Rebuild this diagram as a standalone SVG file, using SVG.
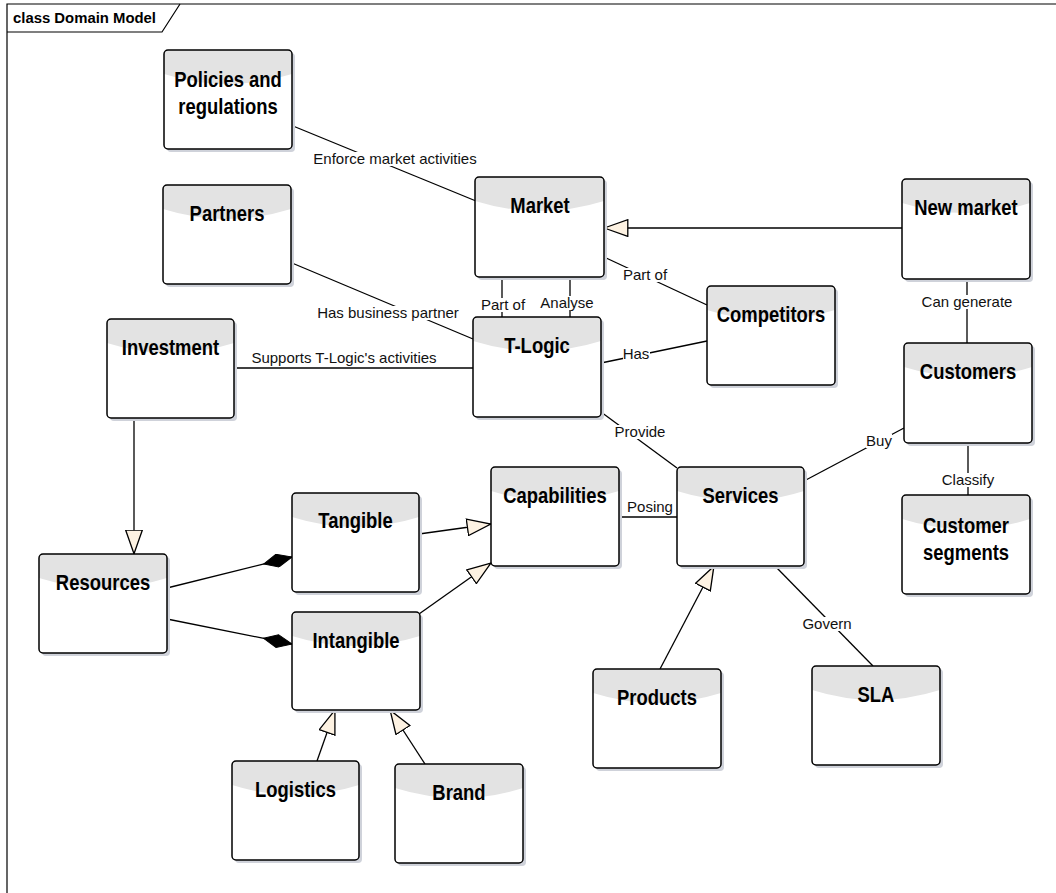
<svg xmlns="http://www.w3.org/2000/svg" width="1056" height="893" viewBox="0 0 1056 893">
<style>
.bg{fill:#ffffff}
.frame{fill:none;stroke:#000;stroke-width:1.2}
.ftitle{font-family:"Liberation Sans",Arial,sans-serif;font-weight:bold;font-size:14px;fill:#000}
.shadow{fill:#cfd2da}
.box{fill:#ffffff}
.hdr{fill:#e3e3e3}
.border{fill:none;stroke:#000;stroke-width:1.5}
.t{font-family:"Liberation Sans",Arial,sans-serif;font-weight:bold;font-size:22.5px;fill:#000;text-anchor:middle}
.ln{fill:none;stroke:#000;stroke-width:1.3}
.gen{marker-end:url(#tri)}
.comp{marker-end:url(#dia)}
.lb{font-family:"Liberation Sans",Arial,sans-serif;font-size:15px;fill:#111;text-anchor:middle}
.lbg{fill:#ffffff}
</style>
<defs>
<marker id="tri" viewBox="0 0 25 18" refX="24.5" refY="9" markerWidth="25" markerHeight="18" markerUnits="userSpaceOnUse" orient="auto">
<path d="M0.7,0.7 L24.3,9 L0.7,17.3 Z" fill="#fdf2e2" stroke="#000" stroke-width="1.3"/>
</marker>
<marker id="dia" viewBox="0 0 30 14" refX="29.5" refY="7" markerWidth="30" markerHeight="14" markerUnits="userSpaceOnUse" orient="auto">
<path d="M0.5,7 L14.5,0.5 L29.5,7 L14.5,13.5 Z" fill="#000" stroke="#000" stroke-width="1"/>
</marker>
</defs>
<rect class="bg" x="0" y="0" width="1056" height="893"/>
<g id="frame">
<path class="frame" d="M7,893 V4 H1056"/>
<path class="frame" d="M7,32 H162 L180,4"/>
<text class="ftitle" x="13" y="23" textLength="143" lengthAdjust="spacingAndGlyphs">class Domain Model</text>
</g>

<g id="connectors">
<line class="ln" x1="293" y1="126" x2="476" y2="201"/>
<line class="ln" x1="292" y1="263" x2="473" y2="339"/>
<line class="ln" x1="234" y1="368" x2="473" y2="368"/>
<line class="ln" x1="502" y1="277" x2="502" y2="317"/>
<line class="ln" x1="570" y1="277" x2="570" y2="317"/>
<line class="ln" x1="604" y1="257" x2="707" y2="305"/>
<line class="ln" x1="601" y1="363" x2="707" y2="341"/>
<line class="ln" x1="601" y1="412" x2="677" y2="468"/>
<line class="ln" x1="967" y1="279" x2="967" y2="343"/>
<line class="ln" x1="968" y1="443" x2="968" y2="495"/>
<line class="ln" x1="804" y1="481" x2="904" y2="428"/>
<line class="ln" x1="619" y1="517" x2="677" y2="517"/>
<line class="ln" x1="775" y1="566" x2="873" y2="666"/>
<line class="ln gen" x1="134" y1="418" x2="134" y2="554"/>
<line class="ln gen" x1="902" y1="228" x2="604" y2="228"/>
<line class="ln gen" x1="660" y1="669" x2="714" y2="566"/>
<line class="ln gen" x1="419" y1="534" x2="491" y2="524"/>
<line class="ln gen" x1="419" y1="614" x2="491" y2="563"/>
<line class="ln gen" x1="317" y1="761" x2="335" y2="710"/>
<line class="ln gen" x1="425" y1="764" x2="390" y2="710"/>
<line class="ln comp" x1="167" y1="588" x2="292" y2="557"/>
<line class="ln comp" x1="167" y1="619" x2="292" y2="644"/>

<rect class="lbg" x="313" y="152" width="164" height="14"/>
<text class="lb" x="395" y="164">Enforce market activities</text>
<rect class="lbg" x="318" y="306" width="140" height="14"/>
<text class="lb" x="388" y="318">Has business partner</text>
<text class="lb" x="344" y="363">Supports T-Logic's activities</text>
<rect class="lbg" x="481" y="298" width="44" height="14"/>
<text class="lb" x="503" y="310">Part of</text>
<rect class="lbg" x="541" y="296" width="52" height="14"/>
<text class="lb" x="567" y="308">Analyse</text>
<rect class="lbg" x="623" y="268" width="44" height="14"/>
<text class="lb" x="645" y="280">Part of</text>
<rect class="lbg" x="623" y="347" width="27" height="14"/>
<text class="lb" x="636" y="359">Has</text>
<rect class="lbg" x="615" y="425" width="51" height="14"/>
<text class="lb" x="640" y="437">Provide</text>
<rect class="lbg" x="922" y="295" width="91" height="14"/>
<text class="lb" x="967" y="307">Can generate</text>
<rect class="lbg" x="942" y="473" width="53" height="14"/>
<text class="lb" x="968" y="485">Classify</text>
<rect class="lbg" x="866" y="434" width="26" height="14"/>
<text class="lb" x="879" y="446">Buy</text>
<text class="lb" x="650" y="512">Posing</text>
<rect class="lbg" x="802" y="617" width="50" height="14"/>
<text class="lb" x="827" y="629">Govern</text>
</g>

<g id="policies" transform="translate(164,50)">
<rect class="shadow" x="3" y="3" width="128" height="99" rx="4"/>
<rect class="box" x="0" y="0" width="128" height="99" rx="4"/>
<path class="hdr" d="M0,4 Q0,0 4,0 H124 Q128,0 128,4 V24 Q64,44 0,24 Z"/>
<rect class="border" x="0" y="0" width="128" height="99" rx="4"/>
<text class="t" transform="translate(64,37) scale(0.82,1)">Policies and</text>
<text class="t" transform="translate(64,64) scale(0.82,1)">regulations</text>
</g>

<g id="partners" transform="translate(163,185)">
<rect class="shadow" x="3" y="3" width="128" height="99" rx="4"/>
<rect class="box" x="0" y="0" width="128" height="99" rx="4"/>
<path class="hdr" d="M0,4 Q0,0 4,0 H124 Q128,0 128,4 V24 Q64,44 0,24 Z"/>
<rect class="border" x="0" y="0" width="128" height="99" rx="4"/>
<text class="t" transform="translate(64,36) scale(0.82,1)">Partners</text>
</g>

<g id="investment" transform="translate(107,319)">
<rect class="shadow" x="3" y="3" width="127" height="99" rx="4"/>
<rect class="box" x="0" y="0" width="127" height="99" rx="4"/>
<path class="hdr" d="M0,4 Q0,0 4,0 H123 Q127,0 127,4 V24 Q63.5,44 0,24 Z"/>
<rect class="border" x="0" y="0" width="127" height="99" rx="4"/>
<text class="t" transform="translate(63.5,36) scale(0.82,1)">Investment</text>
</g>

<g id="market" transform="translate(475,177)">
<rect class="shadow" x="3" y="3" width="129" height="100" rx="4"/>
<rect class="box" x="0" y="0" width="129" height="100" rx="4"/>
<path class="hdr" d="M0,4 Q0,0 4,0 H125 Q129,0 129,4 V24 Q64.5,44 0,24 Z"/>
<rect class="border" x="0" y="0" width="129" height="100" rx="4"/>
<text class="t" transform="translate(65,36) scale(0.82,1)">Market</text>
</g>

<g id="tlogic" transform="translate(473,317)">
<rect class="shadow" x="3" y="3" width="128" height="100" rx="4"/>
<rect class="box" x="0" y="0" width="128" height="100" rx="4"/>
<path class="hdr" d="M0,4 Q0,0 4,0 H124 Q128,0 128,4 V24 Q64,44 0,24 Z"/>
<rect class="border" x="0" y="0" width="128" height="100" rx="4"/>
<text class="t" transform="translate(64,36) scale(0.82,1)">T-Logic</text>
</g>

<g id="competitors" transform="translate(707,286)">
<rect class="shadow" x="3" y="3" width="128" height="99" rx="4"/>
<rect class="box" x="0" y="0" width="128" height="99" rx="4"/>
<path class="hdr" d="M0,4 Q0,0 4,0 H124 Q128,0 128,4 V24 Q64,44 0,24 Z"/>
<rect class="border" x="0" y="0" width="128" height="99" rx="4"/>
<text class="t" transform="translate(64,36) scale(0.82,1)">Competitors</text>
</g>

<g id="newmarket" transform="translate(902,179)">
<rect class="shadow" x="3" y="3" width="128" height="100" rx="4"/>
<rect class="box" x="0" y="0" width="128" height="100" rx="4"/>
<path class="hdr" d="M0,4 Q0,0 4,0 H124 Q128,0 128,4 V24 Q64,44 0,24 Z"/>
<rect class="border" x="0" y="0" width="128" height="100" rx="4"/>
<text class="t" transform="translate(64,36) scale(0.82,1)">New market</text>
</g>

<g id="customers" transform="translate(904,343)">
<rect class="shadow" x="3" y="3" width="128" height="100" rx="4"/>
<rect class="box" x="0" y="0" width="128" height="100" rx="4"/>
<path class="hdr" d="M0,4 Q0,0 4,0 H124 Q128,0 128,4 V24 Q64,44 0,24 Z"/>
<rect class="border" x="0" y="0" width="128" height="100" rx="4"/>
<text class="t" transform="translate(64,36) scale(0.82,1)">Customers</text>
</g>

<g id="segments" transform="translate(902,495)">
<rect class="shadow" x="3" y="3" width="128" height="99" rx="4"/>
<rect class="box" x="0" y="0" width="128" height="99" rx="4"/>
<path class="hdr" d="M0,4 Q0,0 4,0 H124 Q128,0 128,4 V24 Q64,44 0,24 Z"/>
<rect class="border" x="0" y="0" width="128" height="99" rx="4"/>
<text class="t" transform="translate(64,38) scale(0.82,1)">Customer</text>
<text class="t" transform="translate(64,65) scale(0.82,1)">segments</text>
</g>

<g id="resources" transform="translate(39,554)">
<rect class="shadow" x="3" y="3" width="128" height="99" rx="4"/>
<rect class="box" x="0" y="0" width="128" height="99" rx="4"/>
<path class="hdr" d="M0,4 Q0,0 4,0 H124 Q128,0 128,4 V24 Q64,44 0,24 Z"/>
<rect class="border" x="0" y="0" width="128" height="99" rx="4"/>
<text class="t" transform="translate(64,36) scale(0.82,1)">Resources</text>
</g>

<g id="tangible" transform="translate(292,493)">
<rect class="shadow" x="3" y="3" width="127" height="99" rx="4"/>
<rect class="box" x="0" y="0" width="127" height="99" rx="4"/>
<path class="hdr" d="M0,4 Q0,0 4,0 H123 Q127,0 127,4 V24 Q63.5,44 0,24 Z"/>
<rect class="border" x="0" y="0" width="127" height="99" rx="4"/>
<text class="t" transform="translate(63.5,35) scale(0.82,1)">Tangible</text>
</g>

<g id="intangible" transform="translate(292,612)">
<rect class="shadow" x="3" y="3" width="128" height="98" rx="4"/>
<rect class="box" x="0" y="0" width="128" height="98" rx="4"/>
<path class="hdr" d="M0,4 Q0,0 4,0 H124 Q128,0 128,4 V24 Q64,44 0,24 Z"/>
<rect class="border" x="0" y="0" width="128" height="98" rx="4"/>
<text class="t" transform="translate(64,36) scale(0.82,1)">Intangible</text>
</g>

<g id="capabilities" transform="translate(491,467)">
<rect class="shadow" x="3" y="3" width="128" height="99" rx="4"/>
<rect class="box" x="0" y="0" width="128" height="99" rx="4"/>
<path class="hdr" d="M0,4 Q0,0 4,0 H124 Q128,0 128,4 V24 Q64,44 0,24 Z"/>
<rect class="border" x="0" y="0" width="128" height="99" rx="4"/>
<text class="t" transform="translate(64,36) scale(0.82,1)">Capabilities</text>
</g>

<g id="services" transform="translate(677,467)">
<rect class="shadow" x="3" y="3" width="127" height="99" rx="4"/>
<rect class="box" x="0" y="0" width="127" height="99" rx="4"/>
<path class="hdr" d="M0,4 Q0,0 4,0 H123 Q127,0 127,4 V24 Q63.5,44 0,24 Z"/>
<rect class="border" x="0" y="0" width="127" height="99" rx="4"/>
<text class="t" transform="translate(63.5,36) scale(0.82,1)">Services</text>
</g>

<g id="products" transform="translate(593,669)">
<rect class="shadow" x="3" y="3" width="128" height="99" rx="4"/>
<rect class="box" x="0" y="0" width="128" height="99" rx="4"/>
<path class="hdr" d="M0,4 Q0,0 4,0 H124 Q128,0 128,4 V24 Q64,44 0,24 Z"/>
<rect class="border" x="0" y="0" width="128" height="99" rx="4"/>
<text class="t" transform="translate(64,36) scale(0.82,1)">Products</text>
</g>

<g id="sla" transform="translate(812,666)">
<rect class="shadow" x="3" y="3" width="128" height="99" rx="4"/>
<rect class="box" x="0" y="0" width="128" height="99" rx="4"/>
<path class="hdr" d="M0,4 Q0,0 4,0 H124 Q128,0 128,4 V24 Q64,44 0,24 Z"/>
<rect class="border" x="0" y="0" width="128" height="99" rx="4"/>
<text class="t" transform="translate(64,36) scale(0.82,1)">SLA</text>
</g>

<g id="logistics" transform="translate(232,761)">
<rect class="shadow" x="3" y="3" width="127" height="99" rx="4"/>
<rect class="box" x="0" y="0" width="127" height="99" rx="4"/>
<path class="hdr" d="M0,4 Q0,0 4,0 H123 Q127,0 127,4 V24 Q63.5,44 0,24 Z"/>
<rect class="border" x="0" y="0" width="127" height="99" rx="4"/>
<text class="t" transform="translate(63.5,36) scale(0.82,1)">Logistics</text>
</g>

<g id="brand" transform="translate(395,764)">
<rect class="shadow" x="3" y="3" width="128" height="99" rx="4"/>
<rect class="box" x="0" y="0" width="128" height="99" rx="4"/>
<path class="hdr" d="M0,4 Q0,0 4,0 H124 Q128,0 128,4 V24 Q64,44 0,24 Z"/>
<rect class="border" x="0" y="0" width="128" height="99" rx="4"/>
<text class="t" transform="translate(64,36) scale(0.82,1)">Brand</text>
</g>
</svg>
